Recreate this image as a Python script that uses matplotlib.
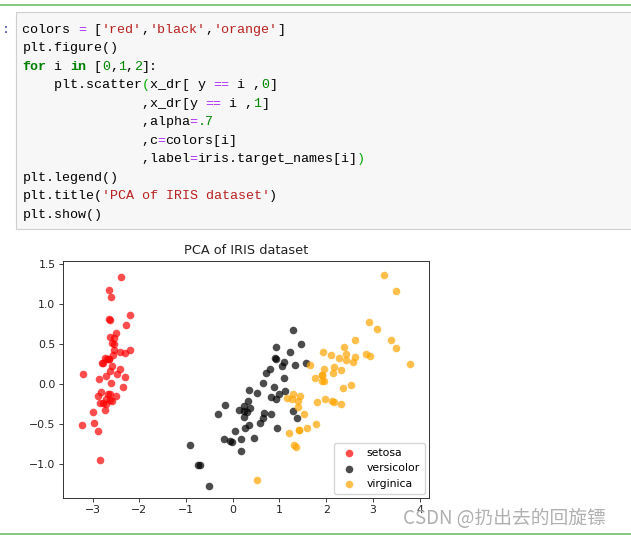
import matplotlib
matplotlib.use("Agg")
import matplotlib.pyplot as plt

# PCA coordinates of the iris data
setosa_x = [-2.684, -2.714, -2.889, -2.745, -2.729, -2.281, -2.821, -2.626, -2.886, -2.673,
            -2.507, -2.613, -2.787, -3.225, -2.644, -2.386, -2.623, -2.648, -2.199, -2.587,
            -2.311, -2.543, -3.216, -2.303, -2.356, -2.508, -2.469, -2.562, -2.640, -2.633,
            -2.587, -2.410, -2.648, -2.599, -2.637, -2.867, -2.625, -2.800, -2.980, -2.590,
            -2.770, -2.850, -2.998, -2.406, -2.209, -2.715, -2.538, -2.839, -2.543, -2.703]
setosa_y = [0.319, -0.177, -0.145, -0.318, 0.327, 0.741, -0.089, 0.163, -0.578, -0.114,
            0.645, 0.015, -0.235, -0.511, 1.179, 1.338, 0.811, 0.312, 0.873, 0.514,
            0.391, 0.433, 0.133, 0.099, -0.037, -0.146, 0.131, 0.368, 0.312, -0.197,
            -0.204, 0.411, 0.813, 1.093, -0.121, 0.069, 0.599, 0.268, -0.487, 0.229,
            0.263, -0.941, -0.342, 0.189, 0.437, -0.250, 0.504, -0.228, 0.579, 0.108]

versicolor_x = [1.284, 0.932, 1.464, 0.181, 1.087, 0.640, 1.095, -0.749, 1.044, -0.009,
                -0.508, 0.512, 0.265, 0.984, -0.174, 0.928, 0.660, 0.236, 0.944, 0.045,
                1.116, 0.357, 1.298, 0.921, 0.715, 0.900, 1.333, 1.558, 0.813, -0.306,
                -0.068, -0.190, 0.136, 1.380, 0.588, 0.807, 1.220, 0.815, 0.246, 0.166,
                0.464, 0.891, 0.231, -0.705, 0.357, 0.332, 0.376, 0.643, -0.907, 0.300]
versicolor_y = [0.685, 0.318, 0.504, -0.826, 0.075, -0.418, 0.284, -1.005, 0.229, -0.723,
                -1.266, -0.104, -0.550, -0.125, -0.255, 0.467, -0.353, -0.333, -0.543, -0.584,
                -0.085, -0.069, -0.328, -0.183, 0.149, 0.329, 0.244, 0.267, -0.163, -0.368,
                -0.705, -0.680, -0.314, -0.421, -0.484, 0.195, 0.408, -0.371, -0.269, -0.682,
                -0.670, -0.034, -0.404, -1.012, -0.505, -0.212, -0.292, 0.018, -0.756, -0.349]

virginica_x = [2.532, 1.415, 2.617, 1.971, 2.350, 3.397, 0.521, 2.933, 2.321, 2.917,
               1.662, 1.803, 2.165, 1.345, 1.585, 1.905, 1.949, 3.488, 3.795, 1.300,
               2.428, 1.199, 3.500, 1.388, 2.276, 2.614, 1.258, 1.291, 2.124, 2.389,
               2.841, 3.232, 2.159, 1.443, 1.780, 3.077, 2.144, 1.905, 1.169, 2.108,
               2.314, 1.922, 1.415, 2.563, 2.419, 1.944, 1.527, 1.764, 1.901, 1.390]
virginica_y = [-0.010, -0.575, 0.343, -0.180, -0.040, 0.551, -1.193, 0.355, -0.244, 0.783,
               0.242, -0.216, 0.216, -0.776, -0.539, 0.119, 0.041, 1.172, 0.257, -0.761,
               0.378, -0.606, 0.461, -0.204, 0.333, 0.558, -0.180, -0.117, -0.210, 0.465,
               0.375, 1.374, -0.218, -0.144, -0.500, 0.688, 0.140, 0.049, -0.165, 0.372,
               0.184, 0.409, -0.575, 0.278, 0.305, 0.188, -0.375, 0.079, 0.117, -0.283]

target_names = ["setosa", "versicolor", "virginica"]
colors = ["red", "black", "orange"]

# code cell text, as (text, color, bold) tokens per line
K, S, O, N, G = "black", "#ba2121", "#aa22ff", "#008800", "#00aa00"
code_lines = [
    [("colors ", K, 0), ("=", O, 0), (" [", K, 0), ("'red'", S, 0), (",", K, 0),
     ("'black'", S, 0), (",", K, 0), ("'orange'", S, 0), ("]", K, 0)],
    [("plt.figure()", K, 0)],
    [("for", "#008000", 1), (" i ", K, 0), ("in", "#008000", 1), (" [", K, 0), ("0", N, 0),
     (",", K, 0), ("1", N, 0), (",", K, 0), ("2", N, 0), ("]:", K, 0)],
    [("    plt.scatter", K, 0), ("(", G, 0), ("x_dr[ y ", K, 0), ("==", O, 0),
     (" i ,", K, 0), ("0", N, 0), ("]", K, 0)],
    [(" " * 15 + ",x_dr[y ", K, 0), ("==", O, 0), (" i ,", K, 0), ("1", N, 0), ("]", K, 0)],
    [(" " * 15 + ",alpha", K, 0), ("=", O, 0), (".7", N, 0)],
    [(" " * 15 + ",c", K, 0), ("=", O, 0), ("colors[i]", K, 0)],
    [(" " * 15 + ",label", K, 0), ("=", O, 0), ("iris.target_names[i]", K, 0), (")", G, 0)],
    [("plt.legend()", K, 0)],
    [("plt.title(", K, 0), ("'PCA of IRIS dataset'", S, 0), (")", K, 0)],
    [("plt.show()", K, 0)],
]

W, H = 631, 539
fig = plt.figure(figsize=(W / 100, H / 100), dpi=100)


def fx(x):
    return x / W


def fy(y):
    return 1 - y / H


# green separators of the notebook
fig.add_artist(plt.Line2D([0, 1], [fy(5), fy(5)], color="#6cbf6c", lw=1.2))
fig.add_artist(plt.Line2D([0, 1], [fy(533.5), fy(533.5)], color="#6cbf6c", lw=1.2))

# code cell box
fig.add_artist(plt.Rectangle((fx(15.7), fy(229)), 1, (229 - 11.7) / H,
                             facecolor="#f7f7f7", edgecolor="#cfcfcf", lw=0.8))
fig.text(fx(2), fy(28.3 + 4.5), ":", color="#303f9f", fontsize=9.6,
         family="Liberation Mono", va="baseline")

for row, tokens in enumerate(code_lines):
    col = 0
    y = 28.3 + row * 18.5 + 4.5
    for txt, c, b in tokens:
        fig.text(fx(22.3 + col * 7.96), fy(y), txt, color=c, fontsize=9.6,
                 family="Liberation Mono", fontweight="bold" if b else "normal",
                 va="baseline", ha="left")
        col += len(txt)

# the chart
ax = fig.add_axes([fx(62.7), fy(498), (429 - 62.7) / W, (498 - 260.5) / H])
xs = [setosa_x, versicolor_x, virginica_x]
ys = [setosa_y, versicolor_y, virginica_y]
for i in [0, 1, 2]:
    ax.scatter(xs[i], ys[i], alpha=.7, c=colors[i], s=30, label=target_names[i],
               linewidths=0)

ax.set_xlim(-3.64, 4.2)
ax.set_ylim(-1.42, 1.55)
ax.set_xticks([-3, -2, -1, 0, 1, 2, 3, 4])
ax.set_yticks([-1.0, -0.5, 0.0, 0.5, 1.0, 1.5])
ax.tick_params(labelsize=7.8, length=2.7, width=0.6, pad=2.5, colors="#222222")
for sp in ax.spines.values():
    sp.set_linewidth(0.7)
    sp.set_color("#333333")
ax.set_title("PCA of IRIS dataset", fontsize=9.3, pad=4.8, color="#222222")
ax.legend(loc="lower right", fontsize=7.8, markerscale=1.0, borderpad=0.45,
          labelspacing=0.5, handletextpad=0.6, borderaxespad=0.4)

# watermark
fig.text(fx(403), fy(519), "CSDN @扔出去的回旋镖", fontsize=13.5, color="#b0b0b0",
         family=["Noto Sans CJK SC", "DejaVu Sans"], va="center", ha="left")

plt.savefig("out.png", dpi=100)
plt.close()
